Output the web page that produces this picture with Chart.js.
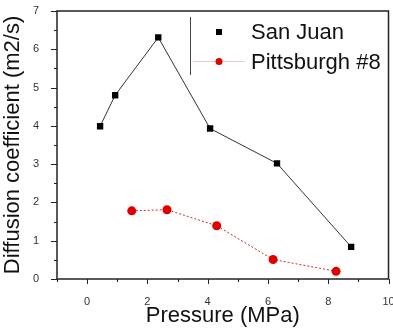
<!DOCTYPE html>
<html>
<head>
<meta charset="utf-8">
<script src="https://cdn.jsdelivr.net/npm/chart.js@4/dist/chart.umd.min.js"></script>
<style>
  html, body { margin: 0; padding: 0; background: #fff; }
  #wrap { width: 393px; height: 329px; position: relative; }
</style>
</head>
<body>
<div id="wrap"><canvas id="c"></canvas></div>
<script>
const sanJuanX = [0.43, 0.93, 2.36, 4.08, 6.3, 8.76];
const sanJuanY = [3.99, 4.8, 6.31, 3.93, 3.02, 0.84];
const pittX = [1.48, 2.65, 4.3, 6.17, 8.26];
const pittY = [1.78, 1.81, 1.39, 0.51, 0.2];
const xTicks = [0, 2, 4, 6, 8, 10];
const yTicks = [0, 1, 2, 3, 4, 5, 6, 7];
const seriesNames = ["San Juan", "Pittsburgh #8"];

const pts = (xs, ys) => xs.map((x, i) => ({ x, y: ys[i] }));

// рамка, засечки и легенда как в Origin
const frame = {
  id: "frame",
  afterDraw(chart) {
    const { ctx, chartArea: a, scales } = chart;
    const sx = scales.x, sy = scales.y;
    ctx.save();
    ctx.strokeStyle = "#222"; ctx.lineWidth = 1.5;
    ctx.strokeRect(a.left, a.top, a.right - a.left, a.bottom - a.top);
    ctx.lineWidth = 1;
    for (let v = -1; v <= 10; v++) {
      const px = Math.round(sx.getPixelForValue(v)) + 0.5;
      const len = v % 2 === 0 ? 5 : 3;
      ctx.beginPath(); ctx.moveTo(px, a.bottom); ctx.lineTo(px, a.bottom + len); ctx.stroke();
    }
    for (let v = 0; v <= 7; v += 0.5) {
      const py = Math.round(sy.getPixelForValue(v)) + 0.5;
      const len = Number.isInteger(v) ? 6 : 3;
      ctx.beginPath(); ctx.moveTo(a.left, py); ctx.lineTo(a.left - len, py); ctx.stroke();
    }
    // легенда
    ctx.strokeStyle = "#444";
    ctx.beginPath(); ctx.moveTo(190.5, 17); ctx.lineTo(190.5, 75); ctx.stroke();
    ctx.strokeStyle = "#f0c8c8";
    ctx.beginPath(); ctx.moveTo(193, 61.5); ctx.lineTo(245, 61.5); ctx.stroke();
    ctx.fillStyle = "#000";
    ctx.fillRect(216, 29, 6, 6);
    ctx.fillStyle = "#e00000";
    ctx.beginPath(); ctx.arc(219, 61.5, 3.5, 0, Math.PI * 2); ctx.fill();
    ctx.fillStyle = "#111";
    ctx.font = "22px 'Liberation Sans', Arial, sans-serif";
    ctx.textBaseline = "middle";
    ctx.fillText(seriesNames[0], 251, 33);
    ctx.fillText(seriesNames[1], 251, 63);
    ctx.restore();
  }
};

new Chart(document.getElementById("c"), {
  type: "scatter",
  data: {
    datasets: [
      { label: seriesNames[0], data: pts(sanJuanX, sanJuanY), showLine: true,
        borderColor: "#333", borderWidth: 1, backgroundColor: "#000",
        pointStyle: "rect", pointRadius: 4.5, pointBorderWidth: 0 },
      { label: seriesNames[1], data: pts(pittX, pittY), showLine: true,
        borderColor: "#c03030", borderWidth: 1, borderDash: [2, 2], backgroundColor: "#e00000",
        pointStyle: "circle", pointRadius: 4.5, pointBorderWidth: 0 },
    ],
  },
  options: {
    responsive: true, maintainAspectRatio: false, animation: false,
    layout: { padding: { top: 11, right: 4, left: 0, bottom: 0 } },
    plugins: { legend: { display: false }, tooltip: { enabled: false } },
    scales: {
      x: {
        type: "linear", min: -1, max: 10,
        afterBuildTicks: (s) => { s.ticks = xTicks.map((v) => ({ value: v })); },
        grid: { display: false }, border: { display: false },
        ticks: { color: "#333", font: { size: 11, family: "'Liberation Sans', Arial" }, padding: 8, maxRotation: 0 },
        title: { display: true, text: "Pressure (MPa)", color: "#111", font: { size: 22, family: "'Liberation Sans', Arial" }, padding: { top: 2, bottom: 0 } },
        afterFit: (s) => { s.height = 50; s.paddingLeft = 0; s.paddingRight = 0; },
      },
      y: {
        type: "linear", min: 0, max: 7,
        afterBuildTicks: (s) => { s.ticks = yTicks.map((v) => ({ value: v })); },
        grid: { display: false }, border: { display: false },
        ticks: { color: "#333", font: { size: 11, family: "'Liberation Sans', Arial" }, padding: 10 },
        title: { display: true, text: "Diffusion coefficient (m2/s)", color: "#111", font: { size: 22, family: "'Liberation Sans', Arial" }, padding: { top: 0, bottom: 3 } },
        afterFit: (s) => { s.width = 57; s.paddingTop = 0; s.paddingBottom = 0; },
      },
    },
  },
  plugins: [frame],
});
</script>
</body>
</html>
